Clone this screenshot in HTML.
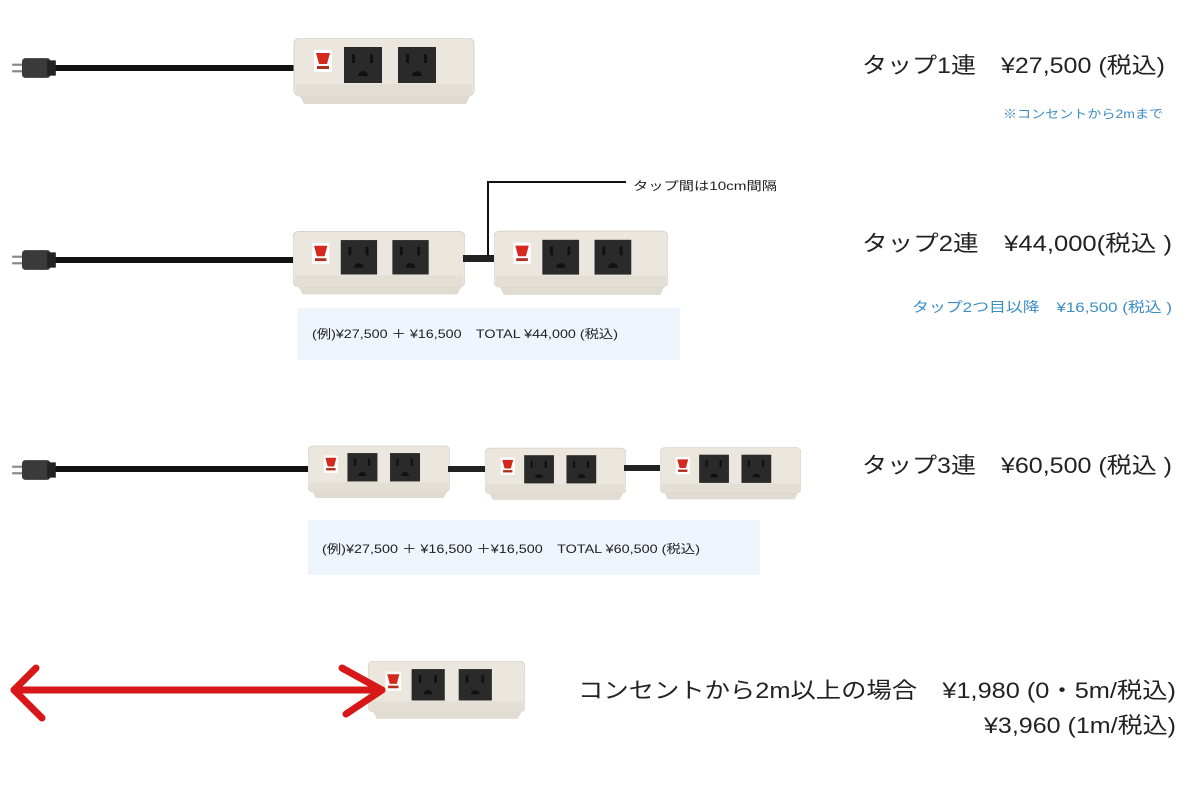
<!DOCTYPE html>
<html><head><meta charset="utf-8"><style>
body{margin:0;background:#fff;}
svg{display:block}
text{font-family:"Liberation Sans","Noto Sans CJK JP",sans-serif;}
</style></head><body>
<svg width="1200" height="788" viewBox="0 0 1200 788" xmlns="http://www.w3.org/2000/svg">
<defs>
<symbol id="tap" viewBox="0 0 180 66">
  <path d="M4 54 L10 66 L172 66 L178 54 Z" fill="#e0dcd2"/>
  <rect x="0" y="0" width="180" height="58" rx="6" fill="#ebe7de" stroke="#d8d3c8" stroke-width="1"/>
  <rect x="2" y="46" width="176" height="12" fill="#e3dfd5"/>
  <rect x="20" y="12" width="18" height="22" fill="#fff"/>
  <path d="M22 15 L36 15 L33 26 L25 26 Z" fill="#d42a1e"/>
  <rect x="23" y="28" width="12" height="3" fill="#b03020"/>
  <rect x="50" y="9" width="38" height="36" fill="#2a2a2a"/>
  <rect x="104" y="9" width="38" height="36" fill="#2a2a2a"/>
  <rect x="58" y="16" width="3" height="9" fill="#111"/><rect x="76" y="16" width="3" height="9" fill="#111"/>
  <rect x="112" y="16" width="3" height="9" fill="#111"/><rect x="130" y="16" width="3" height="9" fill="#111"/>
  <path d="M64 38 a5 5 0 0 1 10 0 Z" fill="#111"/><path d="M118 38 a5 5 0 0 1 10 0 Z" fill="#111"/>
</symbol>
<symbol id="plug" viewBox="0 0 40 22">
  <rect x="0" y="7" width="10" height="2" fill="#888"/><rect x="0" y="13" width="10" height="2" fill="#888"/>
  <rect x="9" y="2" width="26" height="18" rx="3" fill="#3a3a3a"/>
  <rect x="32" y="4" width="8" height="14" fill="#222"/>
</symbol>
</defs>

<!-- Row 1 -->
<rect x="48" y="65" width="255" height="6" fill="#111"/>
<use href="#plug" x="12" y="56" width="44" height="24"/>
<use href="#tap" x="293" y="38" width="182" height="66"/>
<text x="862" y="73" font-size="22" textLength="303" lengthAdjust="spacingAndGlyphs" fill="#222">タップ1連　¥27,500 (税込)</text>
<text x="1003" y="118" font-size="12" textLength="160" lengthAdjust="spacingAndGlyphs" fill="#3b8dc4">※コンセントから2mまで</text>

<!-- Row 2 -->
<rect x="48" y="257" width="255" height="6" fill="#111"/>
<use href="#plug" x="12" y="248" width="44" height="24"/>
<use href="#tap" x="293" y="230" width="172" height="66"/>
<rect x="463" y="255" width="34" height="7" fill="#222"/>
<use href="#tap" x="494" y="230" width="174" height="66"/>
<polyline points="488,256 488,182 626,182" fill="none" stroke="#111" stroke-width="2"/>
<text x="633" y="190" font-size="12" textLength="144" lengthAdjust="spacingAndGlyphs" fill="#222">タップ間は10cm間隔</text>
<text x="862" y="251" font-size="22" textLength="310" lengthAdjust="spacingAndGlyphs" fill="#222">タップ2連　¥44,000(税込 )</text>
<text x="912" y="312" font-size="14" textLength="260" lengthAdjust="spacingAndGlyphs" fill="#3b8dc4">タップ2つ目以降　¥16,500 (税込 )</text>
<rect x="297" y="308" width="383" height="52" fill="#eef5fc"/>
<text x="312" y="338" font-size="12" textLength="306" lengthAdjust="spacingAndGlyphs" fill="#222">(例)¥27,500 ＋ ¥16,500　TOTAL ¥44,000 (税込)</text>

<!-- Row 3 -->
<rect x="48" y="466" width="262" height="6" fill="#111"/>
<use href="#plug" x="12" y="458" width="44" height="24"/>
<use href="#tap" x="308" y="442" width="142" height="60"/>
<rect x="448" y="466" width="40" height="6" fill="#222"/>
<use href="#tap" x="485" y="445" width="141" height="58"/>
<rect x="624" y="465" width="38" height="6" fill="#222"/>
<use href="#tap" x="660" y="444" width="141" height="59"/>
<text x="862" y="473" font-size="22" textLength="310" lengthAdjust="spacingAndGlyphs" fill="#222">タップ3連　¥60,500 (税込 )</text>
<rect x="308" y="520" width="452" height="55" fill="#eef5fc"/>
<text x="322" y="553" font-size="12" textLength="378" lengthAdjust="spacingAndGlyphs" fill="#222">(例)¥27,500 ＋ ¥16,500 ＋¥16,500　TOTAL ¥60,500 (税込)</text>

<!-- Row 4 -->
<use href="#tap" x="368" y="661" width="157" height="58"/>
<g stroke="#d81818" stroke-width="7" stroke-linecap="round" stroke-linejoin="round" fill="none">
  <line x1="14" y1="690" x2="382" y2="690"/>
  <polyline points="36,668 14,690 42,718"/>
  <polyline points="342,668 382,690 346,714"/>
</g>
<text x="578" y="698" font-size="22" textLength="598" lengthAdjust="spacingAndGlyphs" fill="#222">コンセントから2m以上の場合　¥1,980 (0・5m/税込)</text>
<text x="984" y="733" font-size="22" textLength="192" lengthAdjust="spacingAndGlyphs" fill="#222">¥3,960 (1m/税込)</text>
</svg>
</body></html>
